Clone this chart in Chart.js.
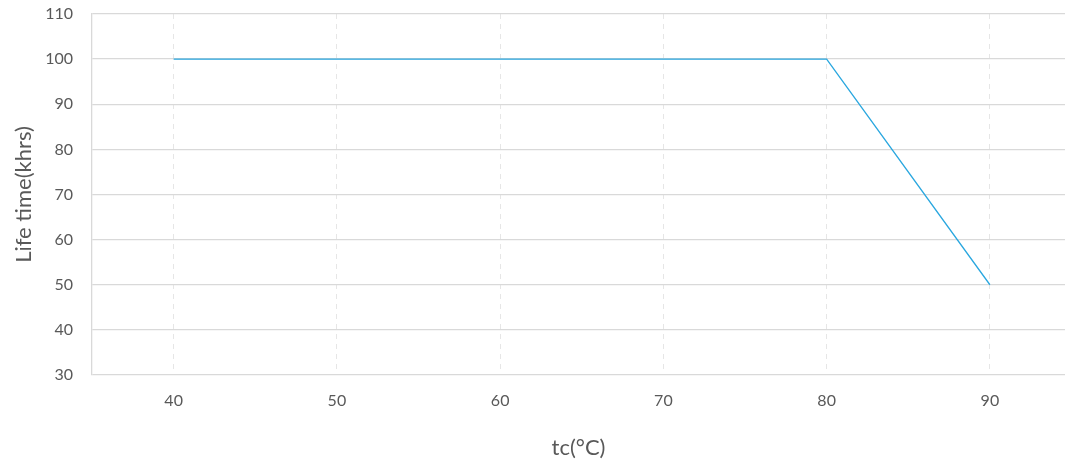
<!DOCTYPE html>
<html>
<head>
<meta charset="utf-8">
<script src="https://cdn.jsdelivr.net/npm/chart.js@4"></script>
<style>
  html, body { margin: 0; padding: 0; background: #fff; }
  #wrap { width: 1065px; height: 465px; }
</style>
</head>
<body>
<div id="wrap"><canvas id="lifeChart"></canvas></div>
<script>
// =========================
// DATA
// =========================

const tempValues = [40, 80, 90];
const lifeValues = [100, 100, 50];
const xTickValues = [40, 50, 60, 70, 80, 90];
const yTickValues = [30, 40, 50, 60, 70, 80, 90, 100, 110];

const xTitle = 'tc(°C)';
const yTitle = 'Life time(khrs)';

// =========================
// CHART
// =========================

const ctx = document.getElementById('lifeChart');

const fontFamily = "Lato, 'Open Sans', sans-serif";
const textColor = '#595959';

new Chart(ctx, {

    type: 'line',

    data: {
        datasets: [{
            data: tempValues.map((t, i) => ({ x: t, y: lifeValues[i] })),
            borderColor: '#2aa7df',
            backgroundColor: '#2aa7df',
            borderWidth: 1.3,
            pointRadius: 0,
            tension: 0
        }]
    },

    options: {
        responsive: true,
        maintainAspectRatio: false,
        animation: false,
        layout: { padding: { top: 14, right: 0, left: 0, bottom: 0 } },
        plugins: {
            legend: { display: false },
            tooltip: { enabled: false }
        },
        scales: {
            x: {
                type: 'linear',
                min: 35,
                max: 94.6,
                afterBuildTicks: scale => {
                    scale.ticks = xTickValues.map(v => ({ value: v }));
                },
                afterFit: scale => {
                    scale.height = 90;
                    scale.paddingLeft = 0;
                    scale.paddingRight = 0;
                },
                grid: {
                    color: '#e6e6e6',
                    lineWidth: 1,
                    drawTicks: false
                },
                // dashed vertical grid lines
                border: { display: false, dash: [5, 5] },
                ticks: {
                    color: textColor,
                    font: { family: fontFamily, size: 16 },
                    padding: 16
                },
                title: {
                    display: true,
                    text: xTitle,
                    color: textColor,
                    font: { family: fontFamily, size: 22 },
                    padding: { top: 16 }
                }
            },
            y: {
                min: 30,
                max: 110,
                afterBuildTicks: scale => {
                    scale.ticks = yTickValues.map(v => ({ value: v }));
                },
                afterFit: scale => {
                    scale.width = 92;
                    scale.paddingTop = 0;
                    scale.paddingBottom = 0;
                },
                grid: {
                    color: '#d9d9d9',
                    lineWidth: 1.3,
                    drawTicks: false
                },
                border: { display: true, color: '#d9d9d9', width: 1.3 },
                ticks: {
                    color: textColor,
                    font: { family: fontFamily, size: 16 },
                    padding: 19
                },
                title: {
                    display: true,
                    text: yTitle,
                    color: textColor,
                    font: { family: fontFamily, size: 22 },
                    padding: { top: 11, bottom: 2 }
                }
            }
        }
    }

});
</script>
</body>
</html>
